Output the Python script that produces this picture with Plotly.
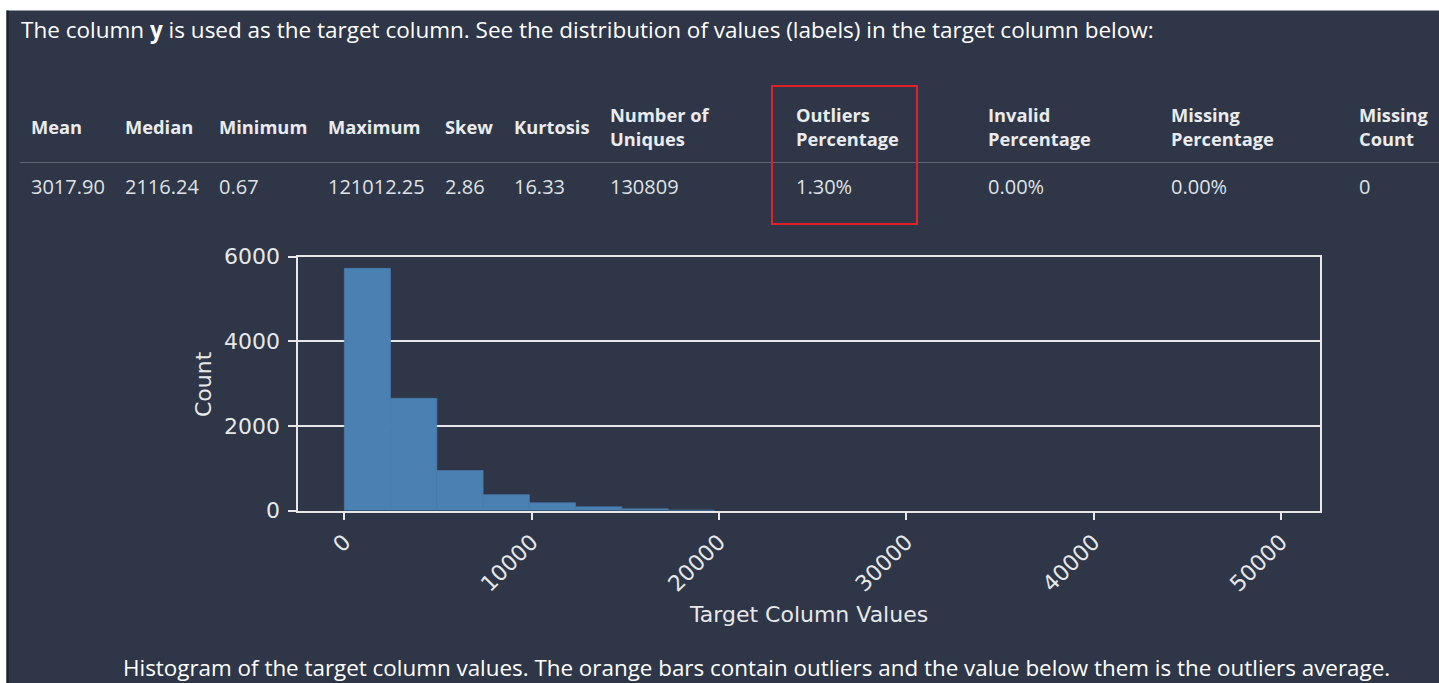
import plotly.graph_objects as go

# ---------------- data ----------------
title_text = "The column <b>y</b> is used as the target column. See the distribution of values (labels) in the target column below:"
caption_text = "Histogram of the target column values. The orange bars contain outliers and the value below them is the outliers average."

table_headers = ["Mean", "Median", "Minimum", "Maximum", "Skew", "Kurtosis",
                 "Number of<br>Uniques", "Outliers<br>Percentage", "Invalid<br>Percentage",
                 "Missing<br>Percentage", "Missing<br>Count"]
table_values = ["3017.90", "2116.24", "0.67", "121012.25", "2.86", "16.33",
                "130809", "1.30%", "0.00%", "0.00%", "0"]

bin_start = 0.0
bin_width = 2470.0
bin_counts = [5720, 2650, 945, 375, 182, 87, 40, 12, 0, 0, 0, 0, 0, 0, 0, 0, 0, 0, 0, 0, 0]

x_ticks = [0, 10000, 20000, 30000, 40000, 50000]
y_ticks = [0, 2000, 4000, 6000]

# ---------------- layout helpers ----------------
W, H = 1439, 683
BG = "#2e3647"
AX = "#e6e8ea"
BAR = "#4a80b2"


def px(x):
    return x / W


def py(y):
    return 1 - y / H


bin_centers = [bin_start + bin_width * (i + 0.5) for i in range(len(bin_counts))]
edge_widths = [0.6 if c > 0 else 0 for c in bin_counts]

fig = go.Figure()
fig.add_trace(go.Bar(
    x=bin_centers, y=bin_counts, width=[bin_width] * len(bin_counts),
    marker=dict(color=BAR, line=dict(width=edge_widths, color=BAR)),
    hoverinfo="x+y", showlegend=False,
))

ann = []
ui_font = "Open Sans"
# title
ann.append(dict(text=title_text, x=px(19), y=py(30), xref="paper", yref="paper",
                xanchor="left", yanchor="middle", showarrow=False,
                font=dict(family=ui_font, size=22.5, color="#ffffff")))
# table
col_x = [31, 125, 219, 328, 445, 514, 610, 796, 988, 1171, 1359]
for cx, h, v in zip(col_x, table_headers, table_values):
    ann.append(dict(text="<b>" + h.replace("<br>", "</b><br><b>") + "</b>", x=px(cx - 2), y=py(127),
                    xref="paper", yref="paper", xanchor="left", yanchor="middle",
                    align="left", showarrow=False,
                    font=dict(family=ui_font, size=18.3, color="#e9ebee")))
    ann.append(dict(text=v, x=px(cx - 2), y=py(186), xref="paper", yref="paper",
                    xanchor="left", yanchor="middle", showarrow=False,
                    font=dict(family=ui_font, size=20, color="#dfe2e6")))
# axis titles
ann.append(dict(text="Count", x=px(203), y=py(384), xref="paper", yref="paper",
                xanchor="center", yanchor="middle", textangle=-90, showarrow=False,
                font=dict(family="DejaVu Sans", size=22, color=AX)))
ann.append(dict(text="Target Column Values", x=px(808), y=py(614), xref="paper", yref="paper",
                xanchor="center", yanchor="middle", showarrow=False,
                font=dict(family="DejaVu Sans", size=22, color=AX)))
# caption
ann.append(dict(text=caption_text, x=px(756), y=py(667), xref="paper", yref="paper",
                xanchor="center", yanchor="middle", showarrow=False,
                font=dict(family=ui_font, size=22.4, color="#ffffff")))

shapes = [
    # white page strips
    dict(type="rect", xref="paper", yref="paper", x0=0, x1=1, y0=py(10.5), y1=1,
         fillcolor="#ffffff", line=dict(width=0), layer="above"),
    dict(type="rect", xref="paper", yref="paper", x0=0, x1=px(6.5), y0=0, y1=1,
         fillcolor="#ffffff", line=dict(width=0), layer="above"),
    dict(type="rect", xref="paper", yref="paper", x0=px(6.5), x1=px(8.7), y0=0, y1=py(10.5),
         fillcolor="#1f2226", line=dict(width=0), layer="above"),
    # table separator
    dict(type="line", xref="paper", yref="paper", x0=px(20), x1=1, y0=py(162.5), y1=py(162.5),
         line=dict(color="#5f6672", width=1.2)),
    # red highlight box
    dict(type="rect", xref="paper", yref="paper", x0=px(772), x1=px(917), y0=py(224), y1=py(86),
         line=dict(color="#e0202a", width=2)),
]

fig.update_layout(
    width=W, height=H, margin=dict(l=0, r=0, t=0, b=0, pad=0, autoexpand=False),
    paper_bgcolor=BG, plot_bgcolor=BG,
    annotations=ann, shapes=shapes, showlegend=False,
    xaxis=dict(domain=[px(298.3), px(1320)], range=[-2456, 52093], automargin=False,
               tickvals=x_ticks, ticktext=[str(t) for t in x_ticks], tickangle=-45,
               ticks="outside", ticklen=8, tickwidth=1.5, tickcolor=AX,
               showline=True, linecolor=AX, linewidth=1.8, mirror=True,
               showgrid=False, zeroline=False,
               tickfont=dict(family="DejaVu Sans", size=22, color=AX)),
    yaxis=dict(domain=[py(510.5), py(256.5)], range=[0, 6000], automargin=False,
               tickvals=y_ticks, ticktext=[str(t) for t in y_ticks],
               ticks="outside", ticklen=8, tickwidth=1.5, tickcolor=AX,
               ticklabelstandoff=4,
               showline=True, linecolor=AX, linewidth=1.8, mirror=True,
               showgrid=True, gridcolor=AX, gridwidth=1.5, zeroline=False,
               tickfont=dict(family="DejaVu Sans", size=22, color=AX)),
)

fig.write_html("out.html", config={"displayModeBar": False},
               post_script="document.body.style.margin='0';")
